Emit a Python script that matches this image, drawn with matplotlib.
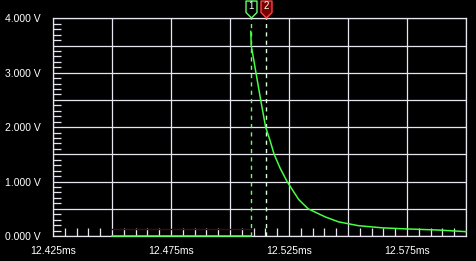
import matplotlib
matplotlib.use("Agg")
import matplotlib.pyplot as plt
from matplotlib.path import Path
from matplotlib.ticker import MultipleLocator, FixedLocator

# trace (time in ms, voltage in V)
# flat part before the step
t_low = [12.4500, 12.5088]
v_low = [0.0, 0.0]
# decay after the step
t_ms = [12.5088, 12.5090, 12.5110, 12.5130, 12.5151, 12.5170, 12.5187, 12.5212,
        12.5242, 12.5291, 12.5331, 12.5404, 12.5460, 12.5544, 12.5645,
        12.5747, 12.5882, 12.6000]
volts = [3.76, 3.50, 3.00, 2.50, 2.00, 1.75, 1.50, 1.25,
         1.00, 0.67, 0.50, 0.35, 0.26, 0.19, 0.15,
         0.13, 0.11, 0.08]

# faint second trace
t2_ms = [12.4500, 12.5088]
volts2 = [0.12, 0.12]

cursor_t = [12.5088, 12.5153]
cursor_names = ["1", "2"]
cursor_colors = ["#66ff66", "#d8ffd8"]
flag_face = ["#000000", "#7a0000"]
flag_edge = ["#66ff66", "#ff4040"]

xticks = [12.425, 12.45, 12.475, 12.5, 12.525, 12.55, 12.575, 12.6]
xlabels = ["12.425ms", "", "12.475ms", "", "12.525ms", "", "12.575ms", ""]
yticks = [0, 0.5, 1, 1.5, 2, 2.5, 3, 3.5, 4]
ylabels = ["0.000 V", "", "1.000 V", "", "2.000 V", "", "3.000 V", "", "4.000 V"]

plt.rcParams['font.family'] = ['Liberation Sans', 'DejaVu Sans']

fig = plt.figure(figsize=(4.76, 2.61), dpi=100, facecolor="black")
ax = fig.add_axes([53 / 476, 25 / 261, 413 / 476, 217.7 / 261], facecolor="black")

grid_col = "#e8e4f0"
ax.set_xlim(12.425, 12.6)
ax.set_ylim(0, 4)
ax.xaxis.set_major_locator(FixedLocator(xticks))
ax.yaxis.set_major_locator(FixedLocator(yticks))
ax.set_xticklabels(xlabels)
ax.set_yticklabels(ylabels)
ax.xaxis.set_minor_locator(MultipleLocator(0.005))
ax.yaxis.set_minor_locator(MultipleLocator(0.1))
ax.grid(True, which="major", color=grid_col, linewidth=0.9)
ax.tick_params(which="major", length=0, colors="white", labelsize=7.5)
ax.tick_params(axis="y", which="major", pad=9)
ax.tick_params(axis="x", which="major", pad=7)
ax.tick_params(which="minor", direction="in", length=6, color=grid_col, width=0.9)
for s in ax.spines.values():
    s.set_color(grid_col)
    s.set_linewidth(0.9)

ax.plot(t2_ms, volts2, color="#3a0c0c", linewidth=1.0, zorder=2)
ax.plot(t_low, v_low, color="#44ff44", linewidth=1.1, clip_on=False, zorder=5)
ax.plot(t_ms, volts, color="#44ff44", linewidth=1.1, clip_on=False, zorder=5)

# cursor flag shape
flag = Path([(-5.5, 8.5), (5.5, 8.5), (5.5, -3), (0, -8.5), (-5.5, -3), (-5.5, 8.5)],
            [Path.MOVETO, Path.LINETO, Path.LINETO, Path.LINETO, Path.LINETO, Path.CLOSEPOLY])
xtr = ax.get_xaxis_transform()
for i in range(len(cursor_t)):
    ax.axvline(cursor_t[i], color=cursor_colors[i], linewidth=1.0,
               linestyle=(0, (3, 3)), zorder=4)
    ax.plot([cursor_t[i]], [1.0 + 9.3 / 217.7], transform=xtr, marker=flag,
            markersize=12.2, markerfacecolor=flag_face[i], markeredgecolor=flag_edge[i],
            markeredgewidth=1.0, clip_on=False, zorder=6)
    ax.text(cursor_t[i], 1.0 + 12.5 / 217.7, cursor_names[i], transform=xtr,
            color="white", fontsize=7, ha="center", va="center", zorder=7)

fig.savefig("out.png", dpi=100, facecolor="black")
